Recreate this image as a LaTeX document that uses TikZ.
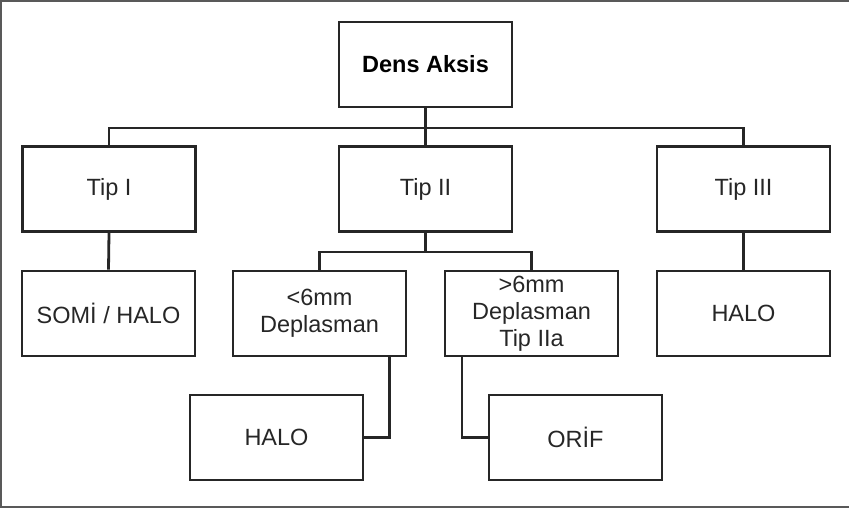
\documentclass[tikz,border=0pt]{standalone}
\usepackage{fontspec}
\setmainfont{Liberation Sans}
\begin{document}
\begin{tikzpicture}[x=1pt,y=-1pt,
  box/.style={draw=black!85, line width=2.8pt, rectangle, minimum width=173pt,
    minimum height=85pt, inner sep=2pt, align=center, text=black!85,
    font=\fontsize{23.5}{27}\selectfont},
  link/.style={draw=black!85, line width=2.8pt},
  frame/.style={draw=black!65, line width=2pt}]
\useasboundingbox (0,0) rectangle (849,508);
% outer frame (left, top, bottom)
\draw[frame] (849,1) -- (1,1) -- (1,507) -- (849,507);

% level 0
\node[box, font=\fontsize{23.5}{27}\selectfont\bfseries, text=black] (dens) at (425.5,64.5) {Dens Aksis};
% level 1
\node[box] (tip1) at (109,189) {Tip I};
\node[box] (tip2) at (425.5,189) {Tip II};
\node[box] (tip3) at (743.5,189) {Tip III};
% level 2
\node[box] (somi)  at (108.5,313.5) {SOMİ / HALO};
\node[box] (lt6)   at (319.5,313.5) {<6mm\\Deplasman};
\node[box] (gt6)   at (531.5,313.5) {>6mm\\Deplasman\\Tip IIa};
\node[box] (halo3) at (743.5,313.5) {HALO};
% level 3
\node[box] (halo2) at (276.5,437.5) {HALO};
\node[box] (orif)  at (575.5,437.5) {ORİF};

% junction points of the bus lines
\coordinate (bus1) at (425.5,128);
\coordinate (bus2) at (425.5,252);

% connectors
\draw[link] (dens.south) -- (tip2.north);
\draw[link] (tip1.north) |- (bus1) -| (tip3.north);
\draw[link] (tip1.south) -- (somi.north);
\draw[link] (tip3.south) -- (halo3.north);
\draw[link] (tip2.south) -- (bus2);
\draw[link] (lt6.north) |- (bus2) -| (gt6.north);
\draw[link] ([xshift=70pt]lt6.south) |- (halo2.east);
\draw[link] ([xshift=-69.5pt]gt6.south) |- (orif.west);
\end{tikzpicture}
\end{document}
